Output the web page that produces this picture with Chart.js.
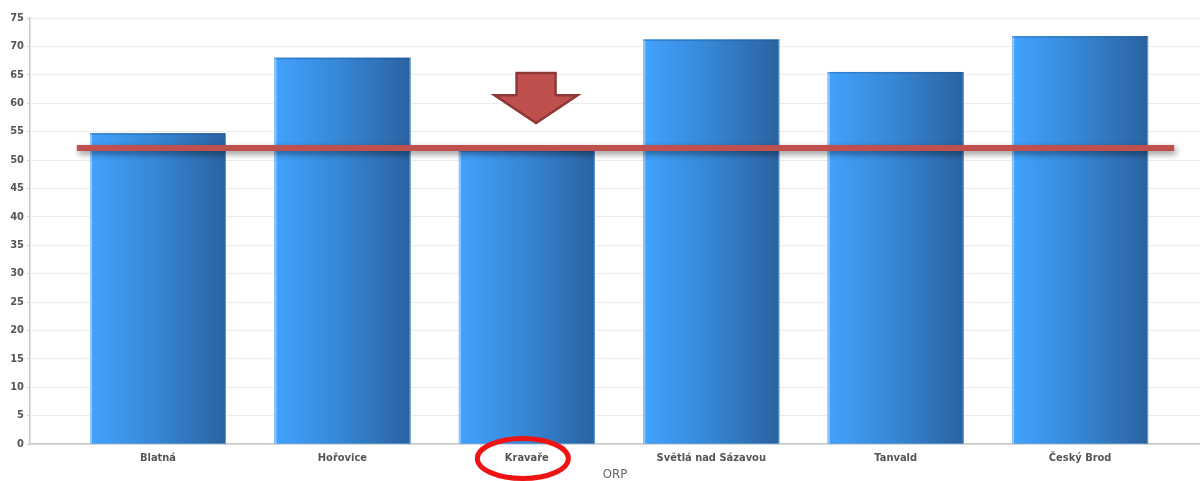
<!DOCTYPE html>
<html>
<head>
<meta charset="utf-8">
<script src="https://cdn.jsdelivr.net/npm/chart.js@4/dist/chart.umd.min.js"></script>
<style>
html,body{margin:0;padding:0;background:#fff;}
#wrap{width:1200px;height:481px;position:relative;}
</style>
</head>
<body>
<div id="wrap"><canvas id="c" width="1200" height="481"></canvas></div>
<script>
// ---- data ----
const categories = ["Blatná", "Hořovice", "Kravaře", "Světlá nad Sázavou", "Tanvald", "Český Brod"];
const values = [54.7, 68.0, 51.7, 71.2, 65.5, 71.8];
const averageValue = 52.1;
const averageSpan = [-0.44, 5.51];
const highlightIndex = 2;
const arrowX = 2.05;
const arrowTop = 65.3;
const arrowHeadTop = 61.4;
const arrowTip = 56.5;
const yTicks = [0, 5, 10, 15, 20, 25, 30, 35, 40, 45, 50, 55, 60, 65, 70, 75];
const xTitle = "ORP";

const FONT = "'DejaVu Sans Condensed', 'DejaVu Sans', sans-serif";

const barStyler = {
  id: 'barStyler',
  afterDatasetDraw(chart, args) {
    if (args.index !== 0) return;
    const ctx = chart.ctx;
    ctx.save();
    args.meta.data.forEach(el => {
      const l = el.x - el.width / 2, r = el.x + el.width / 2;
      const g = ctx.createLinearGradient(l, 0, r, 0);
      g.addColorStop(0, '#42a2fd');
      g.addColorStop(0.45, '#3789d9');
      g.addColorStop(1, '#2a62a0');
      ctx.fillStyle = g;
      ctx.fillRect(l, el.y, r - l, el.base - el.y);
      ctx.fillStyle = 'rgba(170,215,255,0.75)';
      ctx.fillRect(l, el.y, 2, el.base - el.y);
      ctx.fillStyle = 'rgba(30,80,140,0.35)';
      ctx.fillRect(l, el.y, r - l, 1.5);
      ctx.fillStyle = 'rgba(140,190,240,0.6)';
      ctx.fillRect(r - 1, el.y, 1, el.base - el.y);
    });
    ctx.restore();
  }
};

const lineShadow = {
  id: 'lineShadow',
  beforeDatasetDraw(chart, args) {
    if (args.index !== 1) return;
    const ctx = chart.ctx;
    ctx.save();
    ctx.shadowColor = 'rgba(0,0,0,0.45)';
    ctx.shadowBlur = 6;
    ctx.shadowOffsetX = 2;
    ctx.shadowOffsetY = 3;
  },
  afterDatasetDraw(chart, args) {
    if (args.index !== 1) return;
    chart.ctx.restore();
  }
};

const annotations = {
  id: 'annotations',
  afterDraw(chart) {
    const ctx = chart.ctx;
    const xs = chart.scales.x, ys = chart.scales.y;
    const cx = xs.getPixelForValue(arrowX);
    const yTop = ys.getPixelForValue(arrowTop);
    const yHead = ys.getPixelForValue(arrowHeadTop);
    const yTip = ys.getPixelForValue(arrowTip);
    const sw = 19.5, hw = 41.5;
    ctx.save();
    ctx.beginPath();
    ctx.moveTo(cx - sw, yTop);
    ctx.lineTo(cx + sw, yTop);
    ctx.lineTo(cx + sw, yHead);
    ctx.lineTo(cx + hw, yHead);
    ctx.lineTo(cx, yTip);
    ctx.lineTo(cx - hw, yHead);
    ctx.lineTo(cx - sw, yHead);
    ctx.closePath();
    ctx.fillStyle = '#c0504d';
    ctx.fill();
    ctx.lineWidth = 2.5;
    ctx.lineJoin = 'miter';
    ctx.strokeStyle = '#8c3836';
    ctx.stroke();
    ctx.restore();
    const ex = xs.getPixelForValue(highlightIndex) - 4;
    const ey = xs.top + 14.5;
    ctx.save();
    ctx.beginPath();
    ctx.ellipse(ex, ey, 45.5, 20, 0, 0, Math.PI * 2);
    ctx.lineWidth = 5;
    ctx.strokeStyle = '#ee1414';
    ctx.stroke();
    ctx.restore();
  }
};

new Chart(document.getElementById('c'), {
  type: 'bar',
  data: {
    datasets: [
      {
        type: 'bar',
        data: values.map((v, i) => ({ x: i, y: v })),
        backgroundColor: '#3789d9',
        borderWidth: 0,
        barPercentage: 1,
        categoryPercentage: 0.737,
        order: 2
      },
      {
        type: 'line',
        data: averageSpan.map(x => ({ x: x, y: averageValue })),
        borderColor: '#c0504d',
        borderWidth: 6,
        borderCapStyle: 'butt',
        pointRadius: 0,
        fill: false,
        order: 1
      }
    ]
  },
  options: {
    responsive: false,
    animation: false,
    events: [],
    layout: { padding: { top: 18, right: 0, bottom: 0, left: 0 } },
    plugins: { legend: { display: false }, tooltip: { enabled: false } },
    scales: {
      x: {
        type: 'linear',
        offset: false,
        min: -0.694,
        max: 5.65,
        afterFit(scale) { scale.height = 37; },
        afterBuildTicks(scale) { scale.ticks = categories.map((_, i) => ({ value: i })); },
        grid: { display: false, drawTicks: false, offset: false },
        border: { display: true, color: '#c8c8c8', width: 1.5 },
        ticks: {
          autoSkip: false,
          maxRotation: 0,
          padding: 8,
          color: '#555',
          font: { family: FONT, size: 11, weight: 'bold' },
          callback: (v) => categories[v]
        },
        title: {
          display: true,
          text: xTitle,
          color: '#666',
          font: { family: FONT, size: 13, lineHeight: 1 },
          padding: { top: 0, bottom: 0 }
        }
      },
      y: {
        min: 0,
        max: 75,
        afterFit(scale) { scale.width = 30; },
        afterBuildTicks(scale) { scale.ticks = yTicks.map(v => ({ value: v })); },
        grid: { color: '#ececec', lineWidth: 1, tickLength: 3, tickColor: '#d0d0d0' },
        border: { display: true, color: '#c8c8c8', width: 1.5 },
        ticks: {
          padding: 3,
          color: '#555',
          font: { family: FONT, size: 11, weight: 'bold' }
        }
      }
    }
  },
  plugins: [barStyler, lineShadow, annotations]
});
</script>
</body>
</html>
